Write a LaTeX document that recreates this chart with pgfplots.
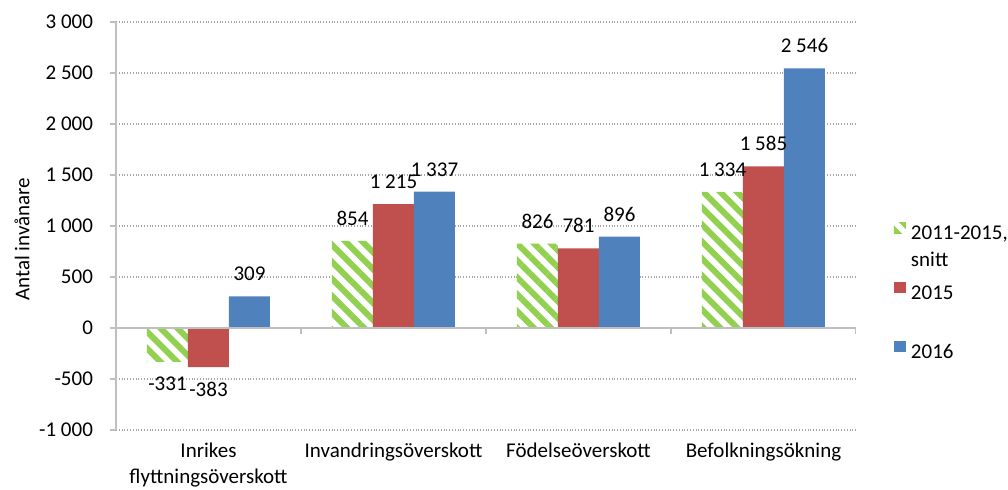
\documentclass[border=0pt]{standalone}
\usepackage{pgfplots}
\pgfplotsset{compat=1.18}
\usepackage{fontspec}
\setmainfont{Carlito}
\usetikzlibrary{patterns.meta}
\definecolor{cgreen}{HTML}{92D050}
\definecolor{cred}{HTML}{C0504D}
\definecolor{cblue}{HTML}{4F81BD}
\definecolor{axgray}{HTML}{BFBFBF}
\definecolor{gridgray}{HTML}{A6A6A6}
\begin{document}
\begin{tikzpicture}[font=\fontsize{10.5}{13}\selectfont]
\useasboundingbox (-58pt,-30pt) rectangle (446pt,215pt);
\begin{axis}[
  at={(0,0)}, anchor=south west,
  scale only axis, width=370pt, height=204pt,
  ybar=0pt, bar width=20.5pt,
  xmin=-0.5, xmax=3.5, ymin=-1000, ymax=3000,
  xtick={0,1,2,3},
  xticklabels={{Inrikes\\flyttningsöverskott},Invandringsöverskott,Födelseöverskott,Befolkningsökning},
  xticklabel style={align=center, font=\fontsize{10.5}{13}\selectfont},
  ytick={-1000,-500,0,500,1000,1500,2000,2500,3000},
  axis lines*=left,
  x axis line style={draw=none},
  y axis line style={draw=axgray, line width=0.7pt},
  xtick style={draw=none},
  ytick style={draw=axgray, line width=0.7pt},
  tick align=outside, major tick length=3pt,
  ymajorgrids, grid style={densely dotted, gridgray, line width=0.6pt},
  /pgf/number format/.cd, 1000 sep={\ }, assume math mode=true,
  /pgfplots/.cd,
  yticklabel style={font=\fontsize{10.5}{13}\selectfont, xshift=-5pt},
  ylabel={Antal invånare},
  ylabel style={at={(axis description cs:-0.127,0.468)}, anchor=center},
  nodes near coords,
  every node near coord/.append style={font=\fontsize{10.5}{13}\selectfont, inner ysep=7.5pt, black},
  legend cell align=left,
  legend style={draw=none, fill=none, at={(1,0.509)}, anchor=north west, xshift=19pt,
    inner sep=0pt, outer sep=0pt, row sep=19.5pt, column sep=2.5pt,
    nodes={inner sep=0pt, text height=7pt, text depth=1.5pt}},
  legend image code/.code={\fill[#1, draw=none] (0pt,0.5pt) rectangle (6pt,6pt);},
]
\addplot[fill=white, draw=none, postaction={pattern={Lines[angle=-45,distance=6pt,line width=3pt]}, pattern color=cgreen}]
  coordinates {(0,-331) (1,854) (2,826) (3,1334)};
\addplot[fill=cred, draw=none] coordinates {(0,-383) (1,1215) (2,781) (3,1585)};
\addplot[fill=cblue, draw=none] coordinates {(0,309) (1,1337) (2,896) (3,2546)};
\addlegendentry{\raisebox{0pt}[\height][0pt]{\vtop{\baselineskip=13.5pt\hbox{2011-2015,}\hbox{snitt}}}}
\addlegendentry{2015}
\addlegendentry{2016}
\draw[axgray, line width=0.7pt] (axis cs:-0.5,0) -- (axis cs:3.5,0);
\pgfplotsinvokeforeach{0.5,1.5,2.5,3.5}{\draw[axgray, line width=0.7pt] (axis cs:#1,0) -- ([yshift=-3pt]axis cs:#1,0);}
\end{axis}
\end{tikzpicture}
\end{document}
